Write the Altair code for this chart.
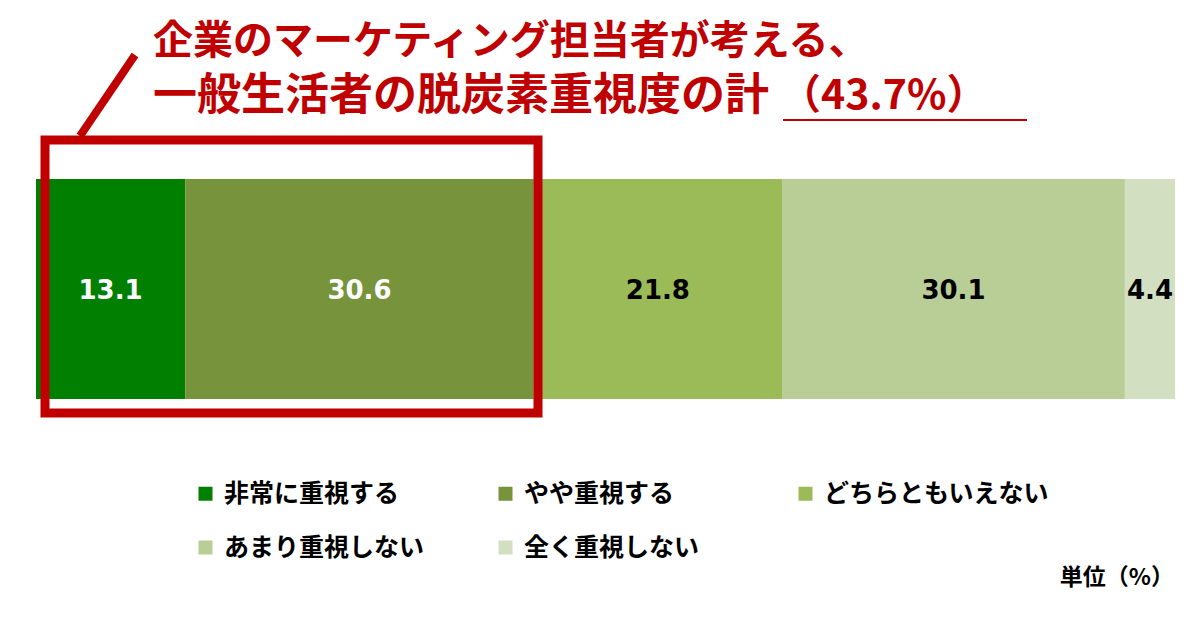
import altair as alt
import pandas as pd

# ---- data ----
categories = ["非常に重視する", "やや重視する", "どちらともいえない", "あまり重視しない", "全く重視しない"]
values = [13.1, 30.6, 21.8, 30.1, 4.4]
colors = ["#007F00", "#77933C", "#9BBB59", "#B9CD96", "#D3DFC1"]
label_dark = [False, False, True, True, True]

title_line1 = "企業のマーケティング担当者が考える、"
title_line2 = "一般生活者の脱炭素重視度の計"
highlight_total = round(values[0] + values[1], 1)
title_total = f"（{highlight_total}%）"
unit_label = "単位（%）"

JP = "Noto Sans CJK JP"
RED = "#C00000"

ends = pd.Series(values).cumsum()
df = pd.DataFrame({
    "cat": categories,
    "value": values,
    "start": ends - pd.Series(values),
    "end": ends,
    "dark": label_dark,
})
df["mid"] = (df["start"] + df["end"]) / 2

xscale = alt.Scale(domain=[0, 100], range=[28, 1167])

bars = alt.Chart(df).mark_rect().encode(
    x=alt.X("start:Q", scale=xscale, axis=None),
    x2="end:Q",
    y=alt.value(171),
    y2=alt.value(391),
    color=alt.Color(
        "cat:N",
        scale=alt.Scale(domain=categories, range=colors),
        sort=categories,
        legend=alt.Legend(
            orient="none", direction="horizontal", legendX=185, legendY=473, columns=3,
            title=None,
            symbolType="square", symbolSize=196, symbolStrokeWidth=0,
            labelFont=JP, labelFontSize=25, labelFontWeight="bold", labelColor="black",
            labelLimit=400, labelOffset=6, columnPadding=43, rowPadding=28,
            gridAlign="all", padding=0,
        ),
    ),
)

labels_white = alt.Chart(df).transform_filter("!datum.dark").mark_text(
    font="DejaVu Sans", fontSize=26, fontWeight="bold", color="white", baseline="middle"
).encode(
    x=alt.X("mid:Q", scale=xscale),
    y=alt.value(283),
    text=alt.Text("value:Q", format=".1f"),
)
labels_black = alt.Chart(df).transform_filter("datum.dark").mark_text(
    font="DejaVu Sans", fontSize=26, fontWeight="bold", color="black", baseline="middle"
).encode(
    x=alt.X("mid:Q", scale=xscale),
    y=alt.value(283),
    text=alt.Text("value:Q", format=".1f"),
)

box = alt.Chart(pd.DataFrame({"k": [0]})).mark_rect(
    fillOpacity=0, stroke=RED, strokeWidth=9
).encode(x=alt.value(37), x2=alt.value(530), y=alt.value(132), y2=alt.value(405))

pointer = alt.Chart(pd.DataFrame({"k": [0]})).mark_rule(
    color=RED, strokeWidth=8
).encode(x=alt.value(127), y=alt.value(47), x2=alt.value(72), y2=alt.value(128))

t1 = alt.Chart(pd.DataFrame({"t": [title_line1]})).mark_text(
    font=JP, fontSize=40, fontWeight="bold", color=RED, align="left", baseline="middle"
).encode(text="t:N", x=alt.value(145), y=alt.value(34))
t2 = alt.Chart(pd.DataFrame({"t": [title_line2]})).mark_text(
    font=JP, fontSize=44, fontWeight="bold", color=RED, align="left", baseline="middle"
).encode(text="t:N", x=alt.value(145), y=alt.value(89))
t3 = alt.Chart(pd.DataFrame({"t": [title_total]})).mark_text(
    font=JP, fontSize=41, fontWeight="bold", color=RED, align="left", baseline="middle"
).encode(text="t:N", x=alt.value(772), y=alt.value(89))
underline = alt.Chart(pd.DataFrame({"k": [0]})).mark_rule(
    color=RED, strokeWidth=2
).encode(x=alt.value(775), x2=alt.value(1019), y=alt.value(112))

unit = alt.Chart(pd.DataFrame({"t": [unit_label]})).mark_text(
    font=JP, fontSize=23, fontWeight="bold", color="black", align="right", baseline="middle"
).encode(text="t:N", x=alt.value(1166), y=alt.value(570))

chart = alt.layer(
    bars, labels_white, labels_black, box, pointer, t1, t2, t3, underline, unit
).properties(
    width=1184, height=606, padding=0, autosize="none", background="white"
).configure_view(stroke=None)

chart.save("out.html", embed_options={"renderer": "svg", "actions": False})
